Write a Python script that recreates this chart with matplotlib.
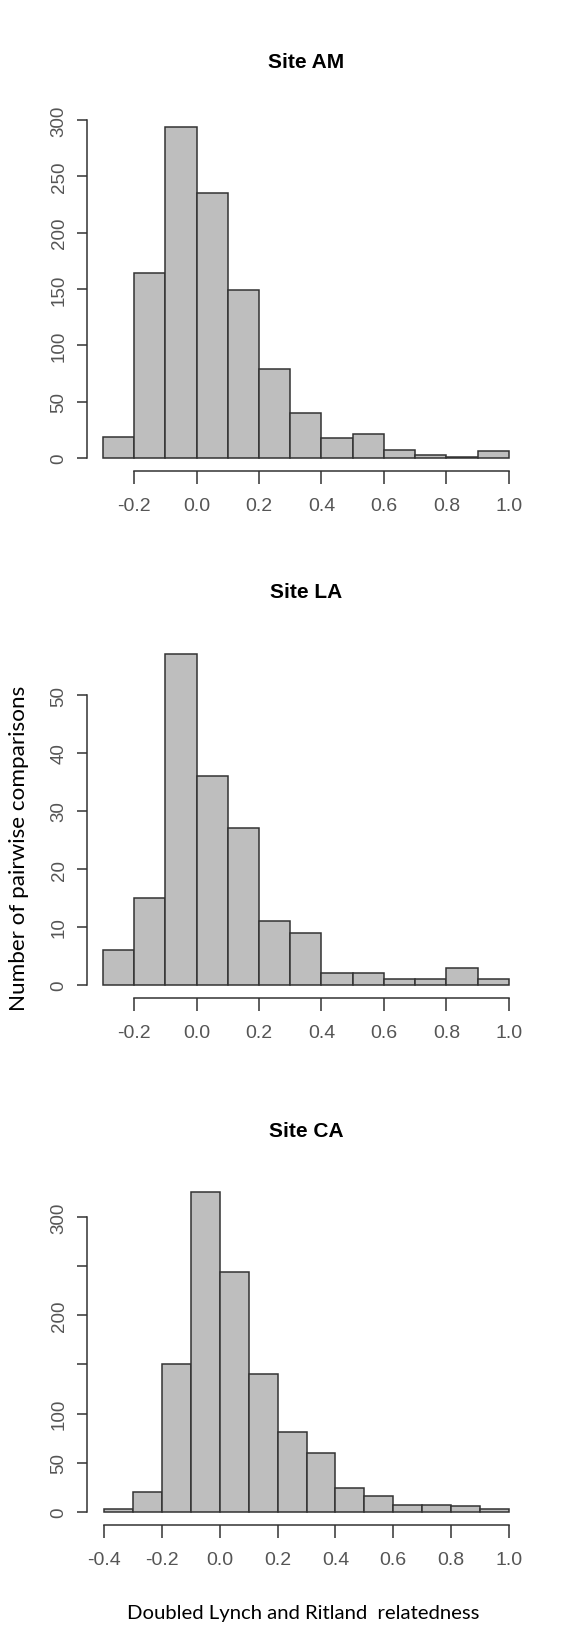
import numpy as np
import matplotlib
matplotlib.use("Agg")
import matplotlib.pyplot as plt
from matplotlib import font_manager

# ---- data ----
am_start, la_start, ca_start = -0.3, -0.3, -0.4
bin_width = 0.1
am_counts = [19, 164, 294, 235, 149, 79, 40, 18, 21, 7, 3, 1, 6]
la_counts = [6, 15, 57, 36, 27, 11, 9, 2, 2, 1, 1, 3, 1]
ca_counts = [3, 20, 151, 325, 244, 140, 81, 60, 24, 16, 7, 7, 6, 3]
titles = ["Site AM", "Site LA", "Site CA"]
am_xticks = [-0.2, 0.0, 0.2, 0.4, 0.6, 0.8, 1.0]
ca_xticks = [-0.4, -0.2, 0.0, 0.2, 0.4, 0.6, 0.8, 1.0]
am_yticks = [0, 50, 100, 150, 200, 250, 300]
am_ylabels = ["0", "50", "100", "150", "200", "250", "300"]
la_yticks = [0, 10, 20, 30, 40, 50]
la_ylabels = ["0", "10", "20", "30", "40", "50"]
ca_yticks = [0, 50, 100, 150, 200, 250, 300]
ca_ylabels = ["0", "50", "100", "", "200", "", "300"]
ylabel = "Number of pairwise comparisons"
xlabel = "Doubled Lynch and Ritland  relatedness"

names = {f.name for f in font_manager.fontManager.ttflist}
narrow = "Liberation Sans Narrow" if "Liberation Sans Narrow" in names else "Liberation Sans"
regular = "Liberation Sans"

W, H = 571, 1640
fig = plt.figure(figsize=(W / 100, H / 100), dpi=100)

EDGE = "#333333"
TICKC = "#555555"


def px_axes(left, top, right, bottom):
    return fig.add_axes([left / W, 1 - bottom / H, (right - left) / W, (bottom - top) / H])


def panel(ax, start, counts, xlim, ylim, xticks, yticks, ylabels, ybound):
    n = len(counts)
    lefts = [start + i * bin_width for i in range(n)]
    ax.bar(lefts, counts, width=bin_width, align="edge", color="#bebebe",
           edgecolor=EDGE, linewidth=1.1)
    ax.set_xlim(*xlim)
    ax.set_ylim(*ylim)
    for s in ("top", "right"):
        ax.spines[s].set_visible(False)
    for s in ("left", "bottom"):
        ax.spines[s].set_color(EDGE)
        ax.spines[s].set_linewidth(1.1)
    ax.spines["bottom"].set_bounds(xticks[0], xticks[-1])
    ax.spines["left"].set_bounds(ybound[0], ybound[1])
    ax.set_xticks(xticks)
    ax.set_xticklabels([f"{t:.1f}" for t in xticks], fontfamily=narrow,
                       fontsize=14, color=TICKC)
    ax.set_yticks(yticks)
    ax.set_yticklabels(ylabels, fontfamily=regular, fontsize=13.5, color=TICKC,
                       rotation=90, va="center")
    ax.tick_params(axis="x", length=9, width=1.1, color=EDGE, pad=10)
    ax.tick_params(axis="y", length=7, width=1.1, color=EDGE, pad=7)
    ax.patch.set_alpha(0)


ax1 = px_axes(87, 114.3, 525, 472)
panel(ax1, am_start, am_counts, (-0.3513, 1.052), (-11.5, 306),
      am_xticks, am_yticks, am_ylabels, (0, 300))

ax2 = px_axes(87, 642.2, 525, 999)
panel(ax2, la_start, la_counts, (-0.3513, 1.052), (-2.24, 59.28),
      am_xticks, la_yticks, la_ylabels, (0, 50))

ax3 = px_axes(87, 1180.6, 525, 1526)
panel(ax3, ca_start, ca_counts, (-0.4588, 1.0553), (-13.2, 338),
      ca_xticks, ca_yticks, ca_ylabels, (0, 300))

for ty, t in zip([63, 592, 1132], titles):
    fig.text(306 / W, 1 - ty / H, t, ha="center", va="center",
             fontfamily=narrow, fontweight="bold", fontsize=15, color="black")

fig.text(19 / W, 1 - 848 / H, ylabel, rotation=90, ha="center", va="center",
         fontfamily="Lato", fontsize=16.2, color="black")
fig.text(303 / W, 1 - 1614 / H, xlabel, ha="center", va="center",
         fontfamily="Lato", fontsize=14.6, color="black")

fig.savefig("out.png", dpi=100, facecolor="white")
